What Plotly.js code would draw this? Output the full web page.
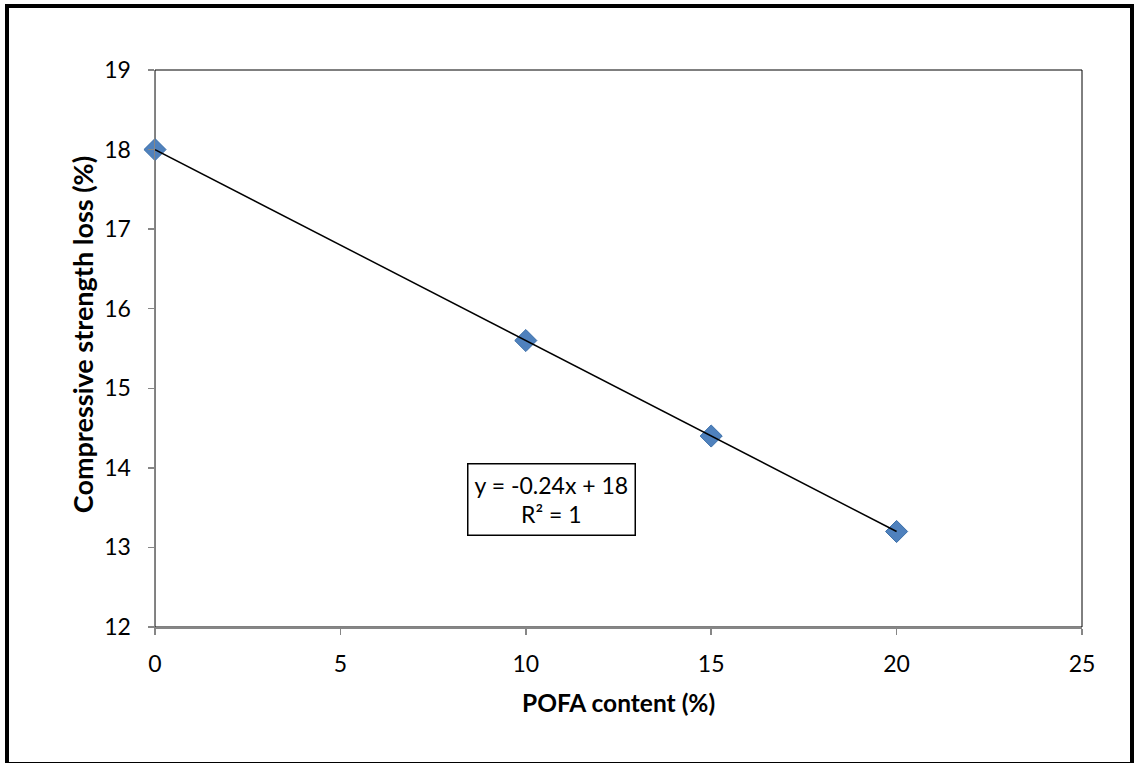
<!DOCTYPE html>
<html><head><meta charset="utf-8">
<script src="https://cdn.plot.ly/plotly-3.0.1.min.js"></script>
<style>
html,body{margin:0;padding:0;background:#fff;}
#wrap{position:relative;width:1135px;height:763px;}
#chart{width:1135px;height:763px;}
#frame{position:absolute;left:5px;top:4px;width:1121px;height:754px;border-left:4px solid #000;border-top:4px solid #000;border-right:4px solid #000;border-bottom:2px solid #000;pointer-events:none;}
</style></head>
<body>
<div id="wrap"><div id="chart"></div><div id="frame"></div></div>
<script>
const pofaContent = [0, 10, 15, 20];
const strengthLoss = [18, 15.6, 14.4, 13.2];
const trendX = [0, 20];
const trendY = [18, 13.2];
const xTicks = [0, 5, 10, 15, 20, 25];
const yTicks = [12, 13, 14, 15, 16, 17, 18, 19];
const equationText = "y = -0.24x + 18<br>R² = 1";
const xTitle = "POFA content (%)";
const yTitle = "Compressive strength loss (%)";

const font = "Lato, 'Open Sans', 'DejaVu Sans', sans-serif";

const data = [
  {x: pofaContent, y: strengthLoss, mode: 'markers', type: 'scatter', cliponaxis: false,
   marker: {symbol: 'diamond', size: 17, color: '#4F81BD', line: {color: '#3A6EA8', width: 1}},
   hoverinfo: 'x+y'},
  {x: trendX, y: trendY, mode: 'lines', type: 'scatter', cliponaxis: false,
   line: {color: '#000', width: 1.5}, hoverinfo: 'skip'}
];

const layout = {
  width: 1135, height: 763,
  margin: {l: 155, r: 53, t: 70, b: 136},
  paper_bgcolor: '#fff', plot_bgcolor: '#fff',
  showlegend: false,
  font: {family: font, size: 23, color: '#000'},
  xaxis: {
    range: [0, 25], tickvals: xTicks, ticktext: xTicks.map(String),
    showgrid: false, zeroline: false, showline: true, linecolor: '#868686', linewidth: 1.5,
    ticks: 'outside', ticklen: 6, tickcolor: '#868686', tickwidth: 1.5,
    ticklabelstandoff: 10,
    tickfont: {family: font, size: 23}
  },
  yaxis: {
    range: [12, 19], tickvals: yTicks, ticktext: yTicks.map(String),
    showgrid: false, zeroline: false, showline: true, linecolor: '#868686', linewidth: 1.5,
    ticks: 'outside', ticklen: 6, tickcolor: '#868686', tickwidth: 1.5,
    ticklabelstandoff: 12,
    tickfont: {family: font, size: 23}
  },
  shapes: [
    {type: 'rect', xref: 'paper', yref: 'paper', x0: 0, x1: 1, y0: 0, y1: 1,
     line: {color: '#000', width: 1}, layer: 'below'}
  ],
  annotations: [
    {xref: 'x', yref: 'y', x: 10.68, y: 13.6, text: equationText, showarrow: false,
     font: {family: font, size: 23, color: '#000'}, align: 'center',
     bordercolor: '#000', borderwidth: 1.5, borderpad: 6, bgcolor: '#fff'},
    {xref: 'paper', yref: 'paper', x: 0.4995, y: -0.1364, xanchor: 'center', yanchor: 'middle',
     text: '<b>' + xTitle + '</b>', showarrow: false, font: {family: font, size: 24.5, color: '#000'}},
    {xref: 'paper', yref: 'paper', x: -0.0787, y: 0.524, xanchor: 'center', yanchor: 'middle',
     textangle: -90, text: '<b>' + yTitle + '</b>', showarrow: false, font: {family: font, size: 27, color: '#000'}}
  ]
};

Plotly.newPlot('chart', data, layout, {displayModeBar: false, staticPlot: true});
</script>
</body></html>
